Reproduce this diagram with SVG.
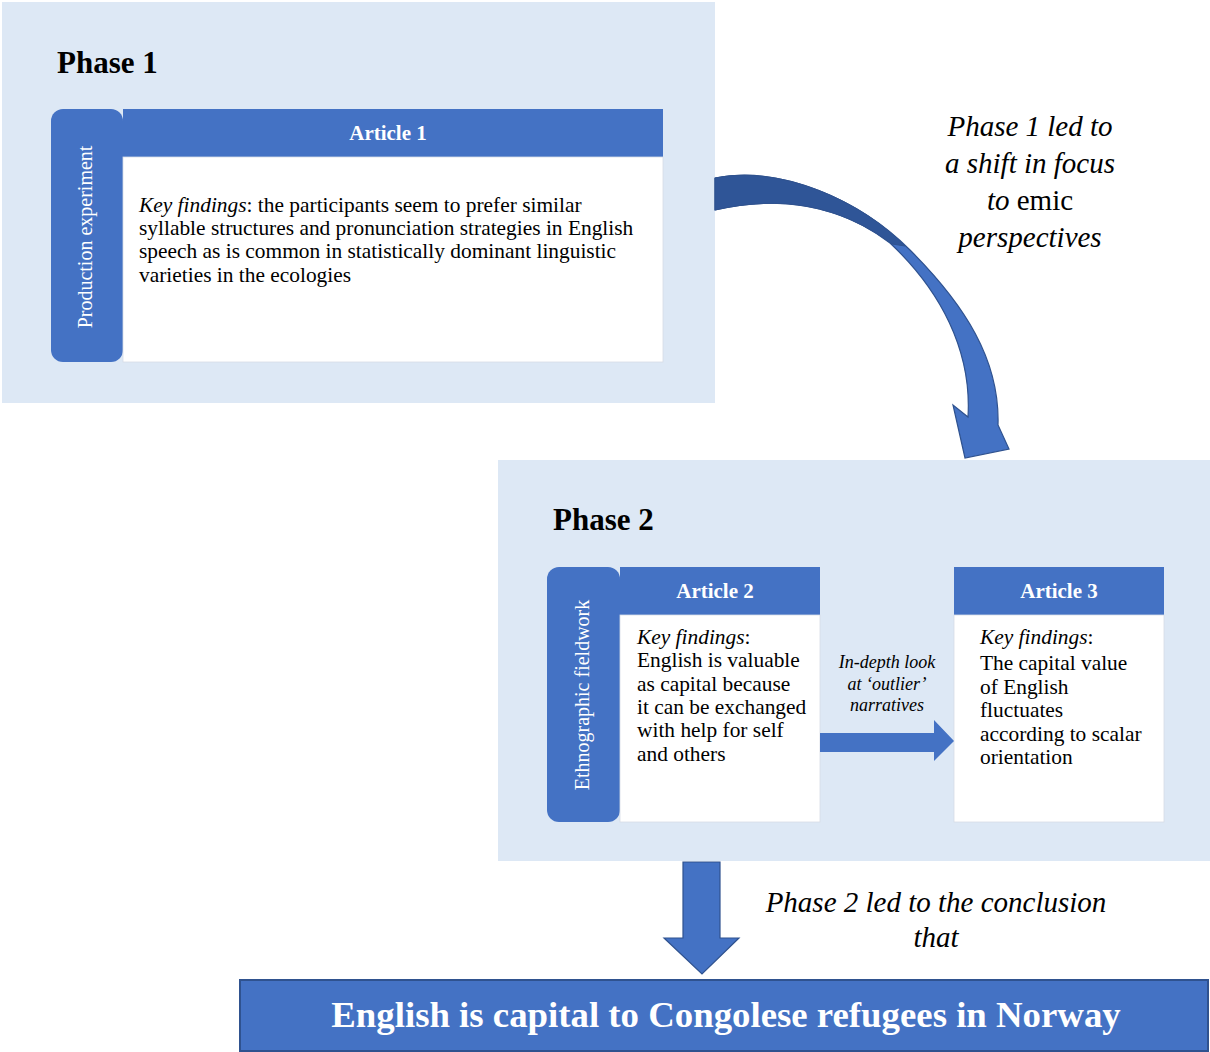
<svg xmlns="http://www.w3.org/2000/svg" width="1210" height="1052" viewBox="0 0 1210 1052">
<style>
.panel{fill:#dde8f5}
.blue{fill:#4472c4}
.body{fill:#ffffff;stroke:#d6dce5;stroke-width:0.8}
.t{font-family:"Liberation Serif","Times New Roman",serif;fill:#000}
.title{font-size:31px;font-weight:bold}
.hdr{font-size:21px;font-weight:bold;fill:#fff;text-anchor:middle}
.txt{font-size:21.4px}
.side{font-size:20px;fill:#fff;text-anchor:middle}
.lbl{font-size:29px;font-style:italic;text-anchor:middle}
.mid{font-size:18px;font-style:italic;text-anchor:middle}
.i{font-style:italic}
.n{font-style:normal}
.conc{font-size:36.8px;font-weight:bold;fill:#fff;text-anchor:middle}
.arrow{fill:#4472c4;stroke:#2f528f;stroke-width:1.2}
</style>
<rect width="1210" height="1052" fill="#ffffff"/>

<g id="phase1">
  <rect class="panel" x="2" y="2" width="713" height="401"/>
  <text class="t title" x="57" y="73">Phase 1</text>
</g>

<g id="article1">
  <rect class="blue" x="51" y="109" width="72" height="253" rx="12"/>
  <text class="t side" transform="translate(92,237) rotate(-90)" font-size="19">Production  experiment</text>
  <rect class="blue" x="123" y="109" width="540" height="48"/>
  <text class="t hdr" x="388" y="140">Article 1</text>
  <rect class="body" x="123" y="157" width="540" height="205"/>
  <text class="t txt" x="139" y="212"><tspan class="i">Key findings</tspan>: the participants seem to prefer similar</text>
  <text class="t txt" x="139" y="235">syllable structures and pronunciation strategies in English</text>
  <text class="t txt" x="139" y="258">speech as is common in statistically dominant linguistic</text>
  <text class="t txt" x="139" y="282">varieties in the ecologies</text>
</g>

<g id="label1">
  <text class="t lbl" x="1030" y="136">Phase 1 led to</text>
  <text class="t lbl" x="1030" y="173">a shift in focus</text>
  <text class="t lbl" x="1030" y="210">to <tspan class="n">emic</tspan></text>
  <text class="t lbl" x="1030" y="247">perspectives</text>
</g>

<g id="phase2">
  <rect class="panel" x="498" y="460" width="712" height="401"/>
  <text class="t title" x="553" y="530">Phase 2</text>
</g>

<g id="article2">
  <rect class="blue" x="547" y="567" width="73" height="255" rx="12"/>
  <text class="t side" transform="translate(589,695) rotate(-90)">Ethnographic fieldwork</text>
  <rect class="blue" x="620" y="567" width="200" height="48"/>
  <text class="t hdr" x="715" y="598">Article 2</text>
  <rect class="body" x="620" y="615" width="200" height="207"/>
  <text class="t txt" x="637" y="644"><tspan class="i">Key findings</tspan>:</text>
  <text class="t txt" x="637" y="667">English is valuable</text>
  <text class="t txt" x="637" y="691">as capital because</text>
  <text class="t txt" x="637" y="714">it can be exchanged</text>
  <text class="t txt" x="637" y="737">with help for self</text>
  <text class="t txt" x="637" y="761">and others</text>
</g>

<g id="article3">
  <rect class="blue" x="954" y="567" width="210" height="48"/>
  <text class="t hdr" x="1059" y="598">Article 3</text>
  <rect class="body" x="954" y="615" width="210" height="207"/>
  <text class="t txt" x="980" y="644"><tspan class="i">Key findings</tspan>:</text>
  <text class="t txt" x="980" y="670">The capital value</text>
  <text class="t txt" x="980" y="694">of English</text>
  <text class="t txt" x="980" y="717">fluctuates</text>
  <text class="t txt" x="980" y="741">according to scalar</text>
  <text class="t txt" x="980" y="764">orientation</text>
</g>

<g id="label-mid">
  <text class="t mid" x="887" y="668">In-depth look</text>
  <text class="t mid" x="887" y="690">at ‘outlier’</text>
  <text class="t mid" x="887" y="711">narratives</text>
</g>

<g id="label2">
  <text class="t lbl" x="936" y="912" font-size="28">Phase 2 led to the conclusion</text>
  <text class="t lbl" x="936" y="947" font-size="28">that</text>
</g>

<g id="conclusion">
  <rect x="240" y="980" width="968" height="71" fill="#4472c4" stroke="#2f528f" stroke-width="2"/>
  <text class="t conc" x="726" y="1027">English is capital to Congolese refugees in Norway</text>
</g>

<g id="connectors">
  <path class="arrow" d="M715,178 C780,165 860,200 910,250 C965,305 1000,360 998,425 L1009,449 L965,458 L953,405 L968,417 C972,350 940,290 890,243 C840,205 780,195 715,210 Z"/>
  <path d="M715,178 C780,165 860,200 905,246 L892,244 C840,205 780,195 715,210 Z" fill="#2f5597" stroke="#2f528f" stroke-width="1"/>
  <polygon points="820,733 934,733 934,720 954,741 934,761 934,752 820,752" fill="#4472c4"/>
  <polygon class="arrow" points="683,862 720,862 720,938 739,938 702,974 664,938 683,938"/>
</g>
</svg>
